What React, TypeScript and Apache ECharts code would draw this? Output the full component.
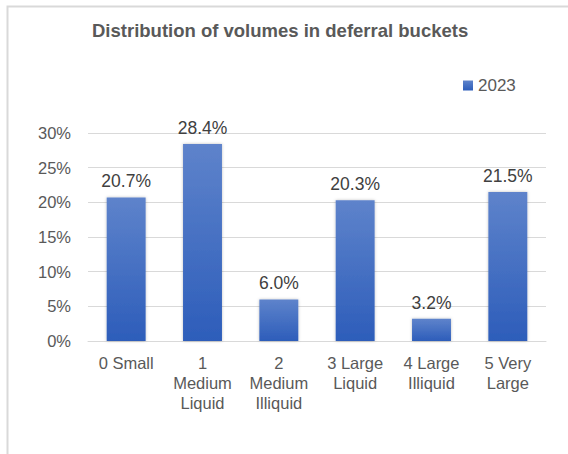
import React, { useEffect, useRef } from "react";
import * as echarts from "echarts";

const categories = [
  "0 Small",
  "1\nMedium\nLiquid",
  "2\nMedium\nIlliquid",
  "3 Large\nLiquid",
  "4 Large\nIlliquid",
  "5 Very\nLarge",
];
const values2023 = [20.7, 28.4, 6.0, 20.3, 3.2, 21.5];
const seriesName = "2023";
const titleText = "Distribution of volumes in deferral buckets";

export default function App() {
  const ref = useRef<HTMLDivElement>(null);
  useEffect(() => {
    if (!ref.current) return;
    const chart = echarts.init(ref.current, null, { renderer: "svg" });
    const font = "'Liberation Sans', Arial, sans-serif";
    chart.setOption({
      animation: false,
      backgroundColor: "#ffffff",
      textStyle: { fontFamily: font },
      title: {
        text: titleText,
        left: 87,
        top: 16,
        textStyle: { fontSize: 18.5, fontWeight: "bold", color: "#595959", fontFamily: font },
      },
      legend: {
        data: [seriesName],
        left: 458,
        top: 72,
        itemWidth: 10,
        itemHeight: 10,
        itemGap: 4,
        icon: "rect",
        textStyle: { fontSize: 17, color: "#595959", fontFamily: font },
      },
      graphic: [
        {
          type: "polyline",
          shape: { points: [[7.5, 454], [7.5, 6.5], [568, 6.5]] },
          style: { stroke: "#d9d9d9", lineWidth: 2, fill: "none" },
          silent: true,
        },
      ],
      grid: { left: 88, right: 22, top: 133, bottom: 113, containLabel: false },
      xAxis: {
        type: "category",
        data: categories,
        axisLine: { lineStyle: { color: "#d9d9d9", width: 1 } },
        axisTick: { show: false },
        axisLabel: {
          interval: 0,
          fontSize: 16.5,
          lineHeight: 20,
          color: "#595959",
          margin: 12,
          fontFamily: font,
        },
      },
      yAxis: {
        type: "value",
        min: 0,
        max: 30,
        interval: 5,
        axisLine: { show: false },
        axisTick: { show: false },
        splitLine: { lineStyle: { color: "#d9d9d9", width: 1 } },
        axisLabel: {
          formatter: "{value}%",
          fontSize: 16.5,
          color: "#595959",
          margin: 17,
          fontFamily: font,
        },
      },
      series: [
        {
          name: seriesName,
          type: "bar",
          data: values2023,
          barWidth: "51%",
          itemStyle: {
            color: new echarts.graphic.LinearGradient(0, 0, 0, 1, [
              { offset: 0, color: "#5E83CB" },
              { offset: 1, color: "#2D5DBA" },
            ]),
            shadowBlur: 3,
            shadowColor: "rgba(0,0,0,0.25)",
          },
          label: {
            show: true,
            position: "top",
            distance: 7,
            formatter: (p: any) => p.value.toFixed(1) + "%",
            fontSize: 17.5,
            color: "#404040",
            fontFamily: font,
          },
        },
      ],
    });
    return () => chart.dispose();
  }, []);
  return (
    <div
      ref={ref}
      style={{ position: "absolute", left: 0, top: 0, width: 568, height: 454 }}
    />
  );
}
